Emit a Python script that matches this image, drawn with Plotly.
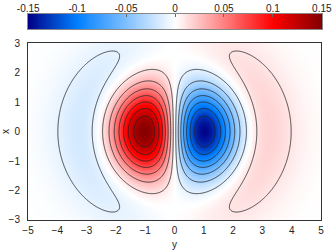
import numpy as np
import plotly.graph_objects as go

# ---- values ----
y_range = [-5, 5]          # horizontal axis ("y")
x_range = [-3, 3]          # vertical axis ("x")
y_ticks = [-5, -4, -3, -2, -1, 0, 1, 2, 3, 4, 5]
x_ticks = [-3, -2, -1, 0, 1, 2, 3]
cb_ticks = [-0.15, -0.1, -0.05, 0, 0.05, 0.1, 0.15]
cb_labels = ["-0.15", "-0.1", "-0.05", "0", "0.05", "0.1", "0.15"]
contour_levels = [-0.13, -0.11, -0.09, -0.07, -0.05, -0.03, -0.01,
                  0.01, 0.03, 0.05, 0.07, 0.09, 0.11, 0.13]
peak_value = 0.148         # magnitude of the two central lobes
node_radius = 2.6          # radius of the sign change ring
lobe_width = 1.28          # gaussian width of the field

# ---- field (dipole with one radial node, fitted to the picture) ----
yy = np.linspace(y_range[0], y_range[1], 401)
xx = np.linspace(x_range[0], x_range[1], 241)
Y, X = np.meshgrid(yy, xx)
R2 = Y**2 + X**2
g = Y * (node_radius**2 - R2) * np.exp(-R2 / (2 * lobe_width**2))
Z = -peak_value * g / g.max()

colorscale = [[0, "rgb(0,0,135)"], [1/6, "rgb(0,128,255)"],
              [0.5, "rgb(255,255,255)"], [5/6, "rgb(255,0,0)"],
              [1, "rgb(128,0,0)"]]
zmin, zmax = cb_ticks[0], cb_ticks[-1]

fig = go.Figure()
fig.add_trace(go.Heatmap(x=yy, y=xx, z=Z, colorscale=colorscale,
                         zmin=zmin, zmax=zmax, showscale=False,
                         hoverinfo="skip"))
fig.add_trace(go.Contour(x=yy, y=xx, z=Z,
                         contours=dict(start=contour_levels[0],
                                       end=contour_levels[-1],
                                       size=0.02, coloring="none"),
                         line=dict(color="#222222", width=0.8),
                         showscale=False, hoverinfo="skip"))

# colour bar drawn as its own small heatmap on top
cb_x = np.linspace(zmin, zmax, 301)
fig.add_trace(go.Heatmap(x=cb_x, y=[0, 1], z=[cb_x, cb_x],
                         colorscale=colorscale, zmin=zmin, zmax=zmax,
                         showscale=False, xaxis="x2", yaxis="y2",
                         hoverinfo="skip"))

font = dict(family="Liberation Sans, Arial, sans-serif", size=10, color="#222")

fig.update_layout(
    width=332, height=252,
    margin=dict(l=28, r=10, t=14, b=32),
    paper_bgcolor="white", plot_bgcolor="white",
    font=font,
    showlegend=False,
    xaxis=dict(domain=[0, 0.9966], range=y_range, tickvals=y_ticks,
               showgrid=False, zeroline=False, showline=True,
               linecolor="#333", linewidth=1, mirror=True, ticks="",
               ticklabelstandoff=1, automargin=False,
               title=dict(text="y", standoff=5, font=font)),
    yaxis=dict(domain=[0, 0.859], range=x_range, tickvals=x_ticks,
               showgrid=False, zeroline=False, showline=True,
               linecolor="#333", linewidth=1, mirror=True, ticks="",
               ticklabelstandoff=5, automargin=False,
               title=dict(text="x", standoff=4, font=font)),
    xaxis2=dict(domain=[0, 1], range=[zmin - 0.0002, zmax + 0.0002],
                anchor="y2", side="top", tickvals=cb_ticks,
                ticktext=cb_labels,
                showgrid=False, zeroline=False, showline=True,
                linecolor="#888", linewidth=1, mirror=True,
                ticks="inside", ticklen=3, tickcolor="#666",
                ticklabelstandoff=-3, automargin=False),
    yaxis2=dict(domain=[0.927, 1.0], range=[0, 1], anchor="x2",
                showticklabels=False, showgrid=False, zeroline=False,
                showline=True, linecolor="#888", linewidth=1, mirror=True,
                ticks="", automargin=False),
)

fig.write_html("out.html",
               config={"displayModeBar": False, "staticPlot": True},
               post_script="document.body.style.margin='0px';"
                           "document.body.style.overflow='hidden';")
